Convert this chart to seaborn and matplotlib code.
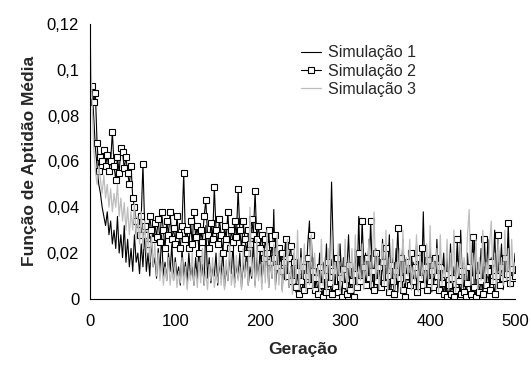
import numpy as np
import pandas as pd
import matplotlib
matplotlib.use("Agg")
import matplotlib.pyplot as plt
import seaborn as sns
from matplotlib.ticker import FuncFormatter

# generation axis (every 2nd generation)
geracao = list(range(0, 501, 2))

# average fitness, in thousandths
sim1 = [
    95, 92, 80, 66, 58, 50, 46, 40, 36, 32,
    38, 28, 34, 24, 30, 22, 36, 20, 28, 18,
    32, 16, 26, 14, 22, 12, 28, 16, 20, 11,
    24, 14, 30, 12, 20, 10, 26, 14, 18, 9,
    22, 12, 28, 10, 16, 8, 20, 12, 24, 8,
    18, 10, 14, 6, 22, 9, 16, 7, 20, 10,
    14, 6, 18, 8, 24, 10, 15, 6, 32, 9,
    18, 7, 14, 10, 20, 6, 16, 9, 22, 5,
    14, 8, 18, 11, 24, 7, 15, 9, 20, 5,
    16, 10, 22, 6, 14, 9, 26, 6, 18, 10,
    22, 7, 16, 12, 24, 5, 18, 9, 39, 6,
    14, 10, 22, 4, 18, 8, 24, 5, 14, 9,
    20, 3, 16, 7, 22, 4, 14, 8, 24, 34,
    6, 18, 3, 12, 8, 20, 4, 16, 9, 24,
    5, 14, 51, 22, 6, 16, 3, 24, 8, 18,
    4, 12, 28, 6, 16, 9, 22, 4, 36, 8,
    14, 5, 20, 10, 26, 4, 16, 9, 22, 3,
    18, 7, 26, 5, 14, 10, 28, 4, 18, 8,
    22, 3, 16, 9, 26, 5, 14, 8, 20, 4,
    16, 10, 24, 6, 14, 8, 38, 5, 18, 9,
    22, 3, 16, 8, 26, 4, 14, 10, 20, 3,
    18, 7, 24, 4, 14, 9, 22, 5, 30, 8,
    16, 3, 20, 6, 14, 10, 28, 5, 16, 8,
    22, 4, 14, 9, 26, 5, 18, 8, 30, 6,
    16, 10, 24, 4, 18, 8, 26, 6, 14, 10,
    20,
]

sim2 = [
    92, 93, 86, 90, 68, 56, 62, 60, 65, 58,
    63, 56, 60, 73, 58, 52, 62, 55, 66, 64,
    57, 62, 55, 50, 58, 44, 40, 34, 30, 28,
    36, 59, 32, 28, 24, 36, 30, 26, 33, 27,
    35, 25, 38, 30, 22, 34, 28, 38, 26, 31,
    24, 36, 28, 22, 32, 55, 26, 30, 22, 34,
    24, 38, 27, 32, 20, 30, 25, 36, 43, 28,
    22, 33, 26, 49, 30, 24, 35, 28, 20, 32,
    26, 38, 22, 30, 25, 34, 27, 48, 30, 22,
    34, 26, 20, 30, 24, 35, 28, 47, 26, 32,
    22, 28, 18, 26, 20, 30, 16, 24, 18, 28,
    14, 22, 12, 20, 16, 26, 10, 18, 23, 8,
    16, 5, 12, 2, 8, 14, 4, 10, 18, 6,
    28, 12, 4, 9, 2, 14, 6, 1, 10, 3,
    16, 7, 2, 12, 5, 18, 3, 9, 1, 13,
    6, 2, 15, 4, 8, 1, 11, 5, 20, 8,
    34, 14, 6, 18, 9, 34, 12, 4, 20, 8,
    14, 5, 16, 7, 22, 10, 3, 15, 8, 2,
    12, 31, 9, 18, 4, 1, 10, 16, 6, 20,
    8, 14, 3, 18, 9, 22, 6, 14, 4, 17,
    8, 12, 5, 18, 10, 4, 14, 7, 2, 11,
    1, 6, 2, 9, 1, 4, 26, 8, 2, 12,
    3, 1, 7, 14, 2, 27, 5, 1, 10, 3,
    8, 2, 26, 6, 12, 4, 16, 8, 2, 10,
    28, 6, 14, 9, 18, 11, 33, 7, 13, 9,
    10,
]

sim3 = [
    112, 88, 66, 56, 50, 58, 52, 46, 54, 44,
    50, 40, 48, 38, 46, 40, 50, 36, 44, 34,
    42, 30, 40, 28, 38, 30, 42, 26, 36, 24,
    38, 22, 34, 20, 30, 16, 28, 14, 24, 10,
    20, 8, 16, 6, 14, 8, 18, 6, 14, 8,
    16, 5, 12, 7, 18, 6, 14, 4, 12, 8,
    20, 6, 13, 5, 16, 7, 22, 6, 12, 4,
    15, 8, 18, 5, 11, 7, 20, 6, 14, 4,
    17, 8, 24, 6, 12, 5, 19, 8, 14, 4,
    22, 9, 16, 6, 40, 10, 18, 5, 26, 8,
    15, 4, 22, 7, 30, 5, 18, 9, 24, 4,
    28, 6, 16, 3, 20, 8, 26, 5, 14, 2,
    22, 7, 30, 4, 18, 9, 24, 3, 16, 6,
    28, 4, 20, 8, 14, 3, 26, 6, 18, 2,
    22, 8, 30, 5, 16, 9, 24, 3, 14, 7,
    26, 4, 18, 10, 22, 3, 28, 6, 14, 8,
    24, 4, 18, 9, 26, 5, 16, 38, 8, 20,
    4, 14, 24, 6, 30, 3, 18, 9, 26, 4,
    16, 8, 22, 3, 30, 7, 18, 10, 26, 4,
    14, 8, 28, 3, 20, 9, 16, 5, 24, 8,
    32, 4, 18, 10, 22, 3, 28, 6, 14, 9,
    26, 4, 20, 7, 30, 3, 16, 10, 24, 5,
    18, 8, 28, 39, 6, 20, 9, 26, 4, 18,
    8, 30, 5, 16, 10, 24, 34, 7, 20, 4,
    26, 9, 18, 6, 30, 8, 22, 5, 26, 10,
    16,
]

labels = ["Simulação 1", "Simulação 2", "Simulação 3"]

df = pd.DataFrame({
    "Geracao": geracao,
    labels[0]: np.array(sim1) / 1000,
    labels[1]: np.array(sim2) / 1000,
    labels[2]: np.array(sim3) / 1000,
})

sns.set_style("white")
plt.rcParams["font.family"] = ["Liberation Sans", "DejaVu Sans"]

fig = plt.figure(figsize=(5.31, 3.69), dpi=100)
ax = fig.add_axes([0.170, 0.190, 0.800, 0.745])

sns.lineplot(data=df, x="Geracao", y=labels[0], ax=ax, color="black",
             lw=0.8, label=labels[0], estimator=None, sort=False)
sns.lineplot(data=df, x="Geracao", y=labels[1], ax=ax, color="black",
             lw=0.8, marker="s", markersize=4, markerfacecolor="white",
             markeredgecolor="black", markeredgewidth=0.8,
             label=labels[1], estimator=None, sort=False)
sns.lineplot(data=df, x="Geracao", y=labels[2], ax=ax, color="#bdbdbd",
             lw=0.9, label=labels[2], estimator=None, sort=False)

ax.set_xlim(0, 500)
ax.set_ylim(0, 0.12)
ax.set_xticks([0, 100, 200, 300, 400, 500])
ax.set_yticks([0, 0.02, 0.04, 0.06, 0.08, 0.1, 0.12])
ax.yaxis.set_major_formatter(FuncFormatter(lambda v, p: f"{v:g}".replace(".", ",")))
ax.tick_params(axis="both", direction="out", length=4, width=0.8,
               labelsize=12, colors="black", pad=4)
ax.tick_params(axis="x", pad=7)

for side in ["top", "right"]:
    ax.spines[side].set_visible(False)
for side in ["left", "bottom"]:
    ax.spines[side].set_color("black")
    ax.spines[side].set_linewidth(0.8)

ax.set_xlabel("Geração", fontsize=12.5, fontweight="bold", labelpad=9)
ax.set_ylabel("Função de Aptidão Média", fontsize=12.5, fontweight="bold", labelpad=7)

ax.legend(loc="upper left", bbox_to_anchor=(0.48, 0.945), frameon=False,
          fontsize=11.5, handlelength=1.3, handletextpad=0.4, labelspacing=0.2,
          borderaxespad=0)

fig.savefig("out.png", dpi=100)
